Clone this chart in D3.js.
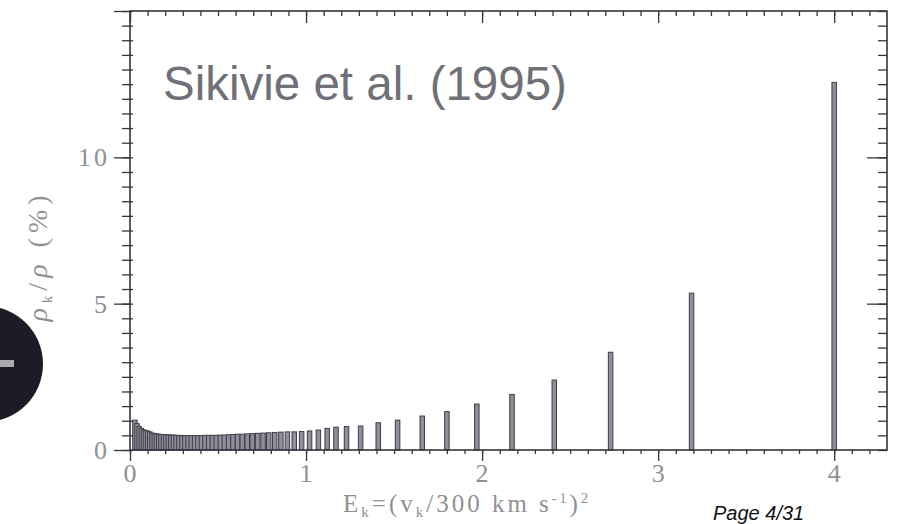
<!DOCTYPE html>
<html><head><meta charset="utf-8">
<script src="https://cdn.jsdelivr.net/npm/d3@7"></script>
<style>html,body{margin:0;padding:0;background:#fff;overflow:hidden}</style>
</head><body>
<svg id="chart" width="897" height="524"></svg>
<script>
// Kinetic energy of each caustic flow, E_k = (v_k / 300 km/s)^2
const energies = [
  0.028, 0.040, 0.052, 0.064, 0.076, 0.088, 0.100, 0.112, 0.125, 0.138,
  0.150, 0.163, 0.176, 0.190, 0.204, 0.218, 0.232, 0.247, 0.262, 0.278,
  0.295, 0.312, 0.330, 0.348, 0.367, 0.386, 0.406, 0.426, 0.447, 0.468,
  0.490, 0.513, 0.536, 0.560, 0.585, 0.611, 0.638, 0.666, 0.695, 0.725,
  0.756, 0.788, 0.822, 0.857, 0.894, 0.933, 0.975, 1.02, 1.07, 1.12,
  1.17, 1.23, 1.31, 1.41, 1.52, 1.66, 1.80, 1.97, 2.17, 2.41,
  2.73, 3.19, 4.00
];
// Share of the local halo density carried by each flow, rho_k / rho in %
const densities = [
  1.02, 0.90, 0.80, 0.74, 0.69, 0.67, 0.65, 0.62, 0.58, 0.56,
  0.55, 0.54, 0.53, 0.53, 0.52, 0.52, 0.51, 0.51, 0.50, 0.50,
  0.49, 0.49, 0.49, 0.49, 0.49, 0.49, 0.49, 0.50, 0.50, 0.50,
  0.50, 0.51, 0.51, 0.52, 0.53, 0.54, 0.54, 0.55, 0.56, 0.57,
  0.58, 0.59, 0.60, 0.61, 0.62, 0.62, 0.63, 0.65, 0.68, 0.74,
  0.78, 0.80, 0.82, 0.93, 1.02, 1.16, 1.31, 1.57, 1.90, 2.39,
  3.34, 5.36, 12.56
];
const xTickLabels = [0, 1, 2, 3, 4];
const yTickLabels = [0, 5, 10];
const titleText = "Sikivie et al. (1995)";
const pageText = "Page 4/31";

const svg = d3.select("#chart");
const pL = 130, pR = 887, pT = 11, pB = 450;
const x = d3.scaleLinear().domain([0, 4.3]).range([pL, pR]);
const y = d3.scaleLinear().domain([0, 15]).range([pB, pT]);
const axisColor = "#35353d";
const labelColor = "#909094";
const serif = "'Liberation Serif', 'DejaVu Serif', serif";

// dark slide ornament at the left edge
const orn = svg.append("g");
orn.append("circle").attr("cx", -15).attr("cy", 364).attr("r", 58).attr("fill", "#1c1c26");
orn.append("rect").attr("x", 0).attr("y", 360).attr("width", 14).attr("height", 7).attr("fill", "#a9a9ae");

// bars
const data = energies.map((e, i) => ({e, v: densities[i]}));
const barW = 4.5;
svg.append("g").selectAll("rect").data(data).join("rect")
  .attr("x", d => x(d.e) - barW / 2)
  .attr("y", d => y(d.v))
  .attr("width", barW)
  .attr("height", d => y(0) - y(d.v))
  .attr("fill", "#8f8f99")
  .attr("stroke", "#3e3e4a")
  .attr("stroke-width", 1);

// ticks
const minorX = d3.range(0, 43).map(i => i / 10);
const majorY = [0, 5, 10, 15];
const minorY = d3.range(0, 31).map(i => i / 2);

function styleAxis(g) {
  g.select(".domain").remove();
  g.selectAll("line").attr("stroke", axisColor).attr("stroke-width", 1.3);
  g.selectAll("text").remove();
}
// bottom
svg.append("g").attr("transform", `translate(0,${pB})`)
  .call(d3.axisBottom(x).tickValues(minorX).tickSize(4)).call(styleAxis);
svg.append("g").attr("transform", `translate(0,${pB})`)
  .call(d3.axisBottom(x).tickValues(xTickLabels).tickSize(11)).call(styleAxis);
// top (inward)
svg.append("g").attr("transform", `translate(0,${pT})`)
  .call(d3.axisBottom(x).tickValues(minorX).tickSize(5)).call(styleAxis);
svg.append("g").attr("transform", `translate(0,${pT})`)
  .call(d3.axisBottom(x).tickValues(xTickLabels).tickSize(12)).call(styleAxis);
// left (crossing minor, outward major)
const gl = svg.append("g").attr("transform", `translate(${pL},0)`)
  .call(d3.axisLeft(y).tickValues(minorY).tickSize(8)).call(styleAxis);
gl.selectAll("line").attr("x2", -8).attr("x1", 3);
svg.append("g").attr("transform", `translate(${pL},0)`)
  .call(d3.axisLeft(y).tickValues(majorY).tickSize(16)).call(styleAxis);
// right (inward)
svg.append("g").attr("transform", `translate(${pR},0)`)
  .call(d3.axisLeft(y).tickValues(minorY).tickSize(9)).call(styleAxis);
svg.append("g").attr("transform", `translate(${pR},0)`)
  .call(d3.axisLeft(y).tickValues([5, 10]).tickSize(20)).call(styleAxis);

// frame
svg.append("rect").attr("x", pL).attr("y", pT)
  .attr("width", pR - pL).attr("height", pB - pT)
  .attr("fill", "none").attr("stroke", axisColor).attr("stroke-width", 1.6);

// tick labels
svg.append("g").selectAll("text").data(xTickLabels).join("text")
  .attr("x", d => x(d)).attr("y", 482)
  .attr("text-anchor", "middle")
  .attr("font-family", serif).attr("font-size", 26).attr("fill", labelColor)
  .text(d => d);
svg.append("g").selectAll("text").data(yTickLabels).join("text")
  .attr("x", 110).attr("y", d => y(d) + 9)
  .attr("text-anchor", "end")
  .attr("font-family", serif).attr("font-size", 26).attr("letter-spacing", 3)
  .attr("fill", labelColor)
  .text(d => d);

// x axis title: E_k = (v_k / 300 km s^-1)^2
const xt = svg.append("text").attr("x", 343).attr("y", 512)
  .attr("font-family", serif).attr("font-size", 25).attr("letter-spacing", 3.0)
  .attr("fill", labelColor);
xt.append("tspan").text("E");
xt.append("tspan").attr("font-size", 15).attr("dy", 5).text("k");
xt.append("tspan").attr("dy", -5).text("=(v");
xt.append("tspan").attr("font-size", 15).attr("dy", 5).text("k");
xt.append("tspan").attr("dy", -5).text("/300 km s");
xt.append("tspan").attr("font-size", 14).attr("dy", -9).text("-1");
xt.append("tspan").attr("dy", 9).text(")");
xt.append("tspan").attr("font-size", 15).attr("dy", -9).text("2");

// y axis title: rho_k / rho (%)
const yt = svg.append("text")
  .attr("transform", "translate(47,256) rotate(-90)")
  .attr("text-anchor", "middle")
  .attr("font-family", serif).attr("letter-spacing", 5)
  .attr("font-size", 28).attr("fill", labelColor);
yt.append("tspan").attr("font-style", "italic").text("ρ");
yt.append("tspan").attr("font-size", 15).attr("dy", 5).text("k");
yt.append("tspan").attr("dy", -5).text("/");
yt.append("tspan").attr("font-style", "italic").text("ρ");
yt.append("tspan").text(" (%)");

// title
svg.append("text").attr("x", 163).attr("y", 100)
  .attr("font-family", "'Liberation Sans', Arial, sans-serif")
  .attr("font-size", 47.5).attr("fill", "#707079")
  .text(titleText);

// page number
svg.append("text").attr("x", 713).attr("y", 520)
  .attr("font-family", "'Liberation Sans', Arial, sans-serif")
  .attr("font-style", "italic").attr("font-size", 20).attr("fill", "#111")
  .text(pageText);
</script>
</body></html>
